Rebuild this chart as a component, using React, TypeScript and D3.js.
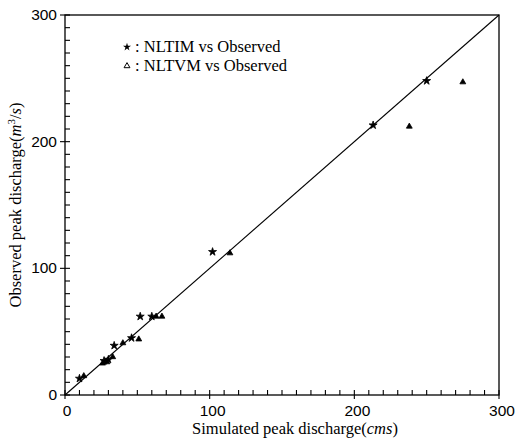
import React, { useEffect, useRef } from "react";
import * as d3 from "d3";

// observed vs simulated peak discharge (m3/s)
const nltimSim = [10, 27, 30, 34, 46, 52, 60, 102, 213, 250];
const nltimObs = [13, 27, 28, 39, 45, 62, 62, 113, 213, 248];
const nltvmSim = [13, 26, 29, 33, 40, 51, 63, 67, 114, 238, 275];
const nltvmObs = [15, 25, 26, 30, 41, 44, 62, 62, 112, 212, 247];
const axisTicks = [0, 100, 200, 300];
const legendLabels = [": NLTIM vs Observed", ": NLTVM vs Observed"];

const W = 515;
const H = 440;
const margin = { top: 15, right: 16, bottom: 45, left: 65 };
const serif = "'Liberation Serif', 'Times New Roman', serif";
const sans = "'Liberation Sans', Arial, sans-serif";

function App() {
    const svgRef = useRef<SVGSVGElement | null>(null);

    useEffect(() => {
        const svg = d3.select(svgRef.current);
        svg.selectAll("*").remove();

        const x = d3.scaleLinear().domain([0, 300]).range([margin.left, W - margin.right]);
        const y = d3.scaleLinear().domain([0, 300]).range([H - margin.bottom, margin.top]);
        const minor = d3.range(0, 301, 10);

        // frame
        svg.append("rect")
            .attr("x", x(0))
            .attr("y", y(300))
            .attr("width", x(300) - x(0))
            .attr("height", y(0) - y(300))
            .attr("fill", "none")
            .attr("stroke", "#000")
            .attr("stroke-width", 1.3);

        // x ticks (inward), majors cross the axis
        svg.append("g")
            .selectAll("line")
            .data(minor)
            .enter()
            .append("line")
            .attr("x1", (d) => x(d))
            .attr("x2", (d) => x(d))
            .attr("y1", (d) => y(0) + (d % 100 === 0 ? 4 : 0))
            .attr("y2", y(0) - 5)
            .attr("stroke", "#000")
            .attr("stroke-width", 1.1);

        svg.append("g")
            .selectAll("line")
            .data(minor)
            .enter()
            .append("line")
            .attr("y1", (d) => y(d))
            .attr("y2", (d) => y(d))
            .attr("x1", (d) => x(0) - (d % 100 === 0 ? 5 : 0))
            .attr("x2", x(0) + 5)
            .attr("stroke", "#000")
            .attr("stroke-width", 1.1);

        // tick labels
        svg.append("g")
            .selectAll("text")
            .data(axisTicks)
            .enter()
            .append("text")
            .attr("x", (d) => x(d) + (d === 0 ? 2 : 3))
            .attr("y", y(0) + 21)
            .attr("text-anchor", "middle")
            .attr("font-family", sans)
            .attr("font-size", 15.5)
            .text((d) => d);

        svg.append("g")
            .selectAll("text")
            .data(axisTicks)
            .enter()
            .append("text")
            .attr("x", x(0) - 8)
            .attr("y", (d) => y(d) + 5)
            .attr("text-anchor", "end")
            .attr("font-family", sans)
            .attr("font-size", 15.5)
            .text((d) => d);

        // axis titles
        const xt = svg.append("text")
            .attr("x", 295)
            .attr("y", 434)
            .attr("text-anchor", "middle")
            .attr("font-family", serif)
            .attr("font-size", 16.5);
        xt.append("tspan").text("Simulated peak discharge(");
        xt.append("tspan").attr("font-style", "italic").text("cms");
        xt.append("tspan").text(")");

        const yt = svg.append("text")
            .attr("transform", "translate(21,205) rotate(-90)")
            .attr("text-anchor", "middle")
            .attr("font-family", serif)
            .attr("font-size", 16.5);
        yt.append("tspan").text("Observed peak discharge(");
        yt.append("tspan").attr("font-style", "italic").text("m");
        yt.append("tspan").attr("font-size", 11).attr("dy", -6).text("3");
        yt.append("tspan").attr("dy", 6).text("/");
        yt.append("tspan").attr("font-style", "italic").text("s");
        yt.append("tspan").text(")");

        // 1:1 line
        svg.append("line")
            .attr("x1", x(0))
            .attr("y1", y(0))
            .attr("x2", x(300))
            .attr("y2", y(300))
            .attr("stroke", "#000")
            .attr("stroke-width", 1.1);

        const star = d3.symbol().type(d3.symbolStar).size(20);
        const tri = d3.symbol().type(d3.symbolTriangle).size(15);

        svg.append("g")
            .selectAll("path")
            .data(nltimSim)
            .enter()
            .append("path")
            .attr("d", star)
            .attr("transform", (d, i) => `translate(${x(d)},${y(nltimObs[i])})`)
            .attr("fill", "#000")
            .attr("stroke", "#000")
            .attr("stroke-width", 0.8);

        svg.append("g")
            .selectAll("path")
            .data(nltvmSim)
            .enter()
            .append("path")
            .attr("d", tri)
            .attr("transform", (d, i) => `translate(${x(d)},${y(nltvmObs[i])})`)
            .attr("fill", "#000")
            .attr("stroke", "#000")
            .attr("stroke-width", 0.8);

        // legend
        const leg = svg.append("g").attr("transform", "translate(127,47)");
        leg.append("path").attr("d", star).attr("fill", "#000");
        leg.append("path")
            .attr("d", tri)
            .attr("transform", "translate(0,19)")
            .attr("fill", "#fff")
            .attr("stroke", "#000")
            .attr("stroke-width", 1);
        leg.selectAll("text")
            .data(legendLabels)
            .enter()
            .append("text")
            .attr("x", 8)
            .attr("y", (d, i) => i * 19 + 5)
            .attr("font-family", serif)
            .attr("font-size", 16.5)
            .text((d) => d);
    }, []);

    return (
        <svg
            ref={svgRef}
            width={W}
            height={H}
            style={{ position: "absolute", left: 0, top: 0, background: "#fff" }}
        />
    );
}

export default App;
